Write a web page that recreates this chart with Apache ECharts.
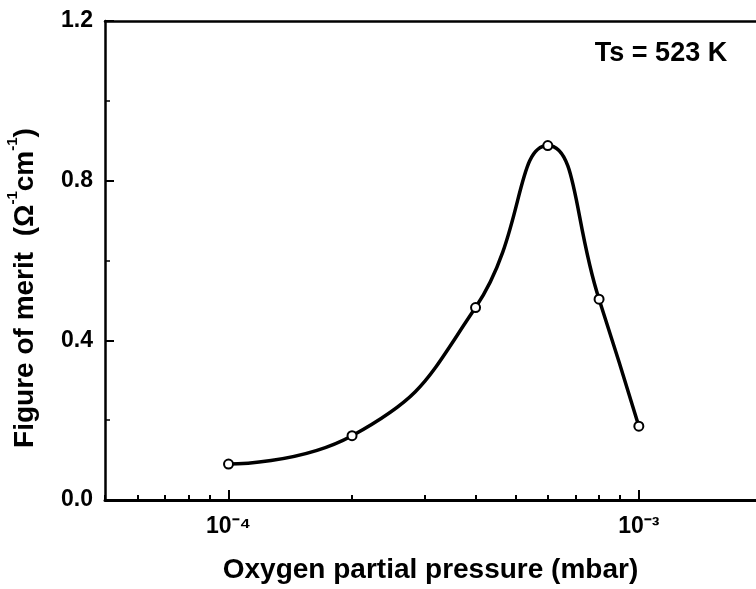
<!DOCTYPE html>
<html><head><meta charset="utf-8">
<script src="https://cdn.jsdelivr.net/npm/echarts@6/dist/echarts.min.js"></script>
<style>html,body{margin:0;padding:0;background:#fff}#c{width:756px;height:589px}</style>
</head><body><div id="c"></div>
<script>
// ---- data ----
const pressure = [1e-4, 2e-4, 4e-4, 6e-4, 8e-4, 1e-3];   // mbar
const merit    = [0.090, 0.161, 0.482, 0.888, 0.503, 0.185]; // Ω^-1 cm^-1
const xRange = [5e-5, 1.93e-3];   // visible part of the log axis
const xMajorTicks = [1e-4, 1e-3];
const xMajorLabels = ['10⁻⁴', '10⁻³'];
const xMinorTicks = [5e-5, 6e-5, 7e-5, 8e-5, 9e-5, 2e-4, 3e-4, 4e-4, 5e-4, 6e-4, 7e-4, 8e-4, 9e-4];
const yRange = [0, 1.2];
const yStep = 0.4;
const annotation = 'Ts = 523 K';
const xTitle = 'Oxygen partial pressure (mbar)';
const yTitleParts = ['Figure of merit  (Ω', '-1', 'cm', '-1', ')'];

// ---- chart ----
const FONT = '"Liberation Sans", Arial, Helvetica, sans-serif';
const lg = Math.log10;
const chart = echarts.init(document.getElementById('c'), null, {renderer: 'canvas'});
const commonX = {type: 'value', min: lg(xRange[0]), max: lg(xRange[1]), gridIndex: 0, splitLine: {show: false}};
const blk = '#000';
const labelFor = v => {
  const i = xMajorTicks.findIndex(t => Math.abs(lg(t) - v) < 1e-6);
  return i >= 0 ? xMajorLabels[i] : '';
};

const option = {
  animation: false,
  backgroundColor: '#fff',
  grid: {left: 105, top: 21, right: 0, bottom: 89, show: false},
  xAxis: [
    Object.assign({}, commonX, {
      position: 'bottom',
      axisLine: {show: true, onZero: false, lineStyle: {color: blk, width: 3}},
      axisTick: {show: true, inside: true, length: 10, lineStyle: {color: blk, width: 2}, customValues: xMajorTicks.map(lg)},
      axisLabel: {
        show: true, customValues: xMajorTicks.map(lg), margin: 15,
        fontSize: 23, fontWeight: 'bold', fontFamily: FONT, color: blk,
        formatter: labelFor
      },
      name: xTitle, nameLocation: 'middle', nameGap: 56,
      nameTextStyle: {fontSize: 28, fontWeight: 'bold', fontFamily: FONT, color: blk}
    }),
    Object.assign({}, commonX, {
      position: 'bottom',
      axisLine: {show: false, onZero: false},
      axisTick: {show: true, inside: true, length: 5, lineStyle: {color: blk, width: 2}, customValues: xMinorTicks.map(lg)},
      axisLabel: {show: false}
    }),
    Object.assign({}, commonX, {
      position: 'top',
      axisLine: {show: true, onZero: false, lineStyle: {color: blk, width: 2.5}},
      axisTick: {show: false},
      axisLabel: {show: false}
    })
  ],
  yAxis: {
    type: 'value', min: yRange[0], max: yRange[1], interval: yStep,
    axisLine: {show: true, lineStyle: {color: blk, width: 2.5}},
    axisTick: {show: true, inside: true, length: 9, lineStyle: {color: blk, width: 2}},
    minorTick: {show: true, splitNumber: 2, length: 5, lineStyle: {color: blk, width: 1.5}},
    axisLabel: {margin: 12, fontSize: 23, fontWeight: 'bold', fontFamily: FONT, color: blk, formatter: v => v.toFixed(1)},
    splitLine: {show: false}, minorSplitLine: {show: false}
  },
  series: [{
    type: 'line', xAxisIndex: 0, yAxisIndex: 0,
    data: pressure.map((p, i) => [lg(p), merit[i]]),
    smooth: 0.5,
    symbol: 'circle', symbolSize: 9,
    itemStyle: {color: '#fff', borderColor: blk, borderWidth: 2},
    lineStyle: {color: blk, width: 3.5},
    z: 5
  }],
  graphic: [
    {
      type: 'text', x: 22, y: 288, rotation: Math.PI / 2,
      style: {
        text: '{m|' + yTitleParts[0] + '}{s|' + yTitleParts[1] + '}{m|' + yTitleParts[2] + '}{s|' + yTitleParts[3] + '}{m|' + yTitleParts[4] + '}',
        align: 'center', verticalAlign: 'middle',
        rich: {
          m: {fontSize: 28, fontWeight: 'bold', fontFamily: FONT, fill: blk, lineHeight: 34, verticalAlign: 'bottom'},
          s: {fontSize: 15, fontWeight: 'bold', fontFamily: FONT, fill: blk, lineHeight: 15, verticalAlign: 'top'}
        }
      }
    },
    {
      type: 'text', x: 661, y: 54,
      style: {text: annotation, align: 'center', verticalAlign: 'middle', fontSize: 27, fontWeight: 'bold', fontFamily: FONT, fill: blk}
    }
  ]
};
chart.setOption(option);
</script>
</body></html>
